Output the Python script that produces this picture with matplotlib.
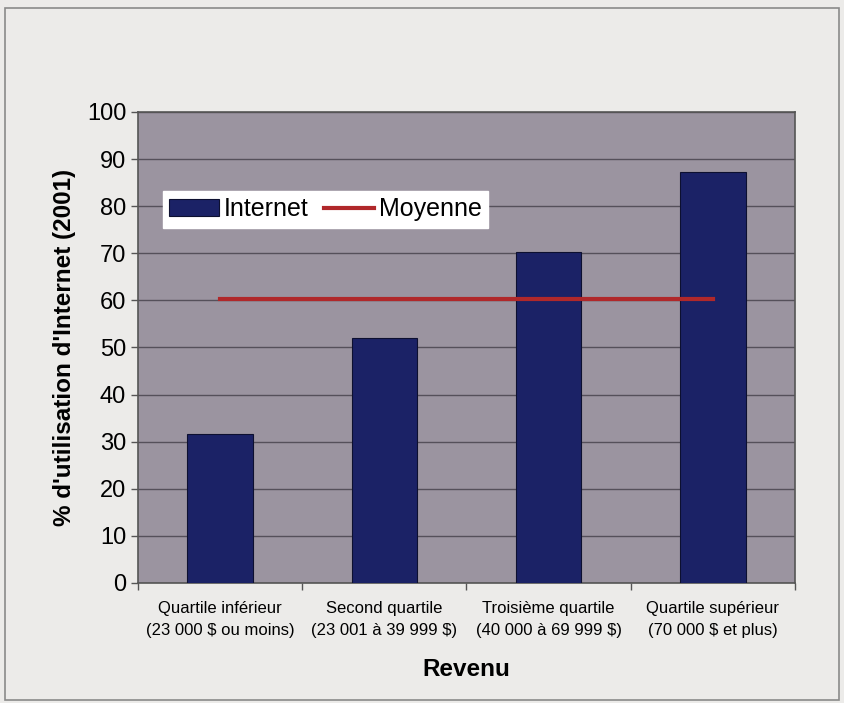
import matplotlib.pyplot as plt
from matplotlib.patches import Rectangle

plt.rcParams['font.family'] = ['Liberation Sans', 'DejaVu Sans']

categories = ["Quartile inférieur\n(23 000 $ ou moins)",
              "Second quartile\n(23 001 à 39 999 $)",
              "Troisième quartile\n(40 000 à 69 999 $)",
              "Quartile supérieur\n(70 000 $ et plus)"]
internet = [31.7, 52.0, 70.3, 87.3]
moyenne = [60.2, 60.2, 60.2, 60.2]
yticks = list(range(0, 101, 10))

plotbg = '#9b94a0'
barcolor = '#1b2266'
linecolor = '#b0282a'

fig = plt.figure(figsize=(8.45, 7.03), dpi=100, facecolor='#ecebe9')
fig.patches.append(Rectangle((5 / 845, 3 / 703), 834 / 845, 692 / 703,
                             transform=fig.transFigure, fill=False,
                             edgecolor='#8a8a8a', linewidth=1.2))

ax = fig.add_axes([0.1633, 0.1707, 0.7775, 0.6700])
ax.set_facecolor(plotbg)

x = list(range(len(categories)))
bars = ax.bar(x, internet, width=0.4, color=barcolor, edgecolor='#0d1030',
              linewidth=0.8, label='Internet', zorder=3)
line, = ax.plot(x, moyenne, color=linecolor, linewidth=3, label='Moyenne',
                zorder=4)

ax.set_xlim(-0.5, 3.5)
ax.set_ylim(0, 100)
ax.set_yticks(yticks)
ax.grid(axis='y', color='#55505a', linewidth=1, zorder=0)
ax.set_axisbelow(True)

ax.set_xticks(x)
ax.set_xticklabels(categories, fontsize=12, linespacing=1.55)
ax.set_xticks([-0.5, 0.5, 1.5, 2.5, 3.5], minor=True)
ax.tick_params(axis='x', which='major', length=0, pad=13)
ax.tick_params(axis='x', which='minor', length=5, width=1, color='#555555')
ax.tick_params(axis='y', labelsize=17, length=5, width=1, color='#555555')

for pos in ['top', 'bottom', 'left', 'right']:
    ax.spines[pos].set_color('#555555')
    ax.spines[pos].set_linewidth(1.2)

ax.set_xlabel('Revenu', fontsize=17.5, fontweight='bold', labelpad=15)
ax.set_ylabel("% d'utilisation d'Internet (2001)", fontsize=17.5,
              fontweight='bold', labelpad=8)

legend = ax.legend([bars, line], ['Internet', 'Moyenne'],
                   loc='upper left', bbox_to_anchor=(0.038, 0.832), ncol=2,
                   fontsize=18, frameon=True, fancybox=False, borderpad=0.25,
                   handlelength=2.0, handletextpad=0.2, columnspacing=0.6,
                   borderaxespad=0)
legend.get_frame().set_facecolor('white')
legend.get_frame().set_edgecolor('white')
legend.get_frame().set_alpha(1)

fig.savefig('out.png', dpi=100, facecolor=fig.get_facecolor())
